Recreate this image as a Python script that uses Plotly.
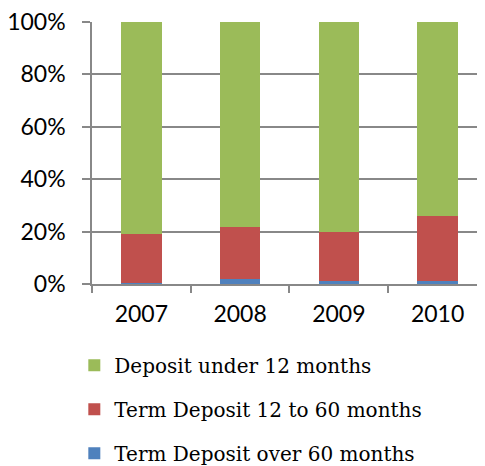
import plotly.graph_objects as go

years = ["2007", "2008", "2009", "2010"]
over_60 = [0.3, 2.0, 1.0, 1.0]
term_12_60 = [18.6, 19.8, 18.9, 24.9]
under_12 = [81.1, 78.2, 80.1, 74.1]
y_ticks = [0, 20, 40, 60, 80, 100]
y_labels = ["0%", "20%", "40%", "60%", "80%", "100%"]

names = ["Term Deposit over 60 months", "Term Deposit 12 to 60 months", "Deposit under 12 months"]
colors = ["#4F81BD", "#C0504D", "#9BBB59"]
ranks = [3, 2, 1]
series = [over_60, term_12_60, under_12]

fig = go.Figure()
for n, c, v, r in zip(names, colors, series, ranks):
    fig.add_trace(go.Bar(x=years, y=v, name=n, marker=dict(color=c, line=dict(width=0)),
                         legendgroup=n, legendrank=r))

# page body has an 8px margin, so the figure is sized 8px smaller
fig.update_layout(
    barmode="stack",
    bargap=0.59,
    width=477, height=458,
    margin=dict(l=84, r=0, t=14, b=182, autoexpand=False),
    plot_bgcolor="white", paper_bgcolor="white",
    showlegend=True,
    legend=dict(x=-0.045, y=-0.236, xanchor="left", yanchor="top",
                traceorder="grouped", tracegroupgap=15,
                font=dict(family="DejaVu Serif", size=20, color="#000"),
                itemwidth=30),
    font=dict(family="Lato", size=23, color="#000"),
)
fig.update_xaxes(type="category", range=[-0.5, 3.48], showline=True, linecolor="#888", linewidth=1.5,
                 ticks="outside", tickson="boundaries", ticklen=7, tickcolor="#888", tickwidth=1.5,
                 showgrid=False, tickfont=dict(family="Lato", size=23), ticklabelstandoff=9)
fig.update_yaxes(range=[0, 100], tickvals=y_ticks, ticktext=y_labels,
                 showline=True, linecolor="#888", linewidth=1.5,
                 ticks="outside", ticklen=8, tickcolor="#888", tickwidth=1.5,
                 showgrid=True, gridcolor="#888", gridwidth=1.5, zeroline=False,
                 ticklabeloverflow="allow",
                 tickfont=dict(family="Lato", size=23), ticklabelstandoff=12)

fig.write_html("out.html")
